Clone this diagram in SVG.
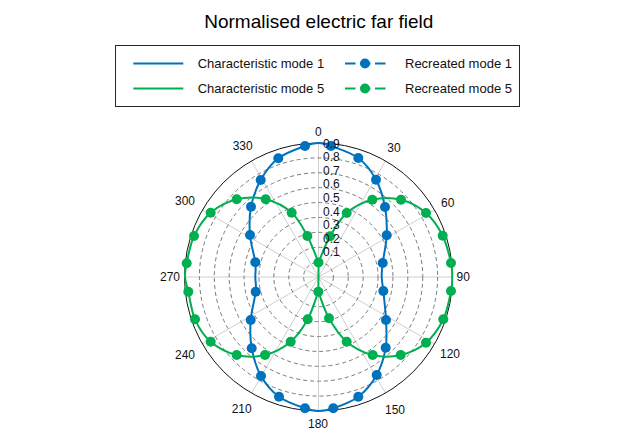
<svg xmlns="http://www.w3.org/2000/svg" width="626" height="446" viewBox="0 0 626 446">
<style>
text{font-family:"Liberation Sans",Arial,sans-serif;fill:#111}
.ttl{font-size:19px;text-anchor:middle;fill:#000}
.lg{font-size:13px}
.ang{font-size:12px;text-anchor:middle}
.rt{font-size:12px}
.spoke{stroke:#cfcfcf;stroke-width:1;fill:none}
.ring{stroke:#7a7a7a;stroke-width:1;fill:none;stroke-dasharray:4 3}
.blue{stroke:#0072BD;stroke-width:2;fill:none;stroke-linejoin:round}
.green{stroke:#00B050;stroke-width:2;fill:none;stroke-linejoin:round}
.bm{fill:#0072BD}
.gm{fill:#00B050}
.dash{stroke-dasharray:10.5 4.5}
</style>
<rect width="626" height="446" fill="#fff"/>
<text class="ttl" x="318.8" y="28">Normalised electric far field</text>
<g id="legend">
<rect x="115.5" y="45.5" width="404" height="61" fill="#fff" stroke="#262626" stroke-width="1"/>
<line class="blue" x1="133.3" y1="63.5" x2="183.3" y2="63.5"/>
<text class="lg" x="197.7" y="68">Characteristic mode 1</text>
<line class="green" x1="133.3" y1="88.5" x2="183.3" y2="88.5"/>
<text class="lg" x="197.7" y="93">Characteristic mode 5</text>
<line class="blue dash" x1="345" y1="63.5" x2="390" y2="63.5"/>
<circle class="bm" cx="365" cy="63.5" r="5"/>
<text class="lg" x="405" y="68">Recreated mode 1</text>
<line class="green dash" x1="345" y1="88.5" x2="390" y2="88.5"/>
<circle class="gm" cx="365" cy="88.5" r="5"/>
<text class="lg" x="405" y="93">Recreated mode 5</text>
</g>
<g id="grid">
<line class="spoke" x1="318.5" y1="143" x2="318.5" y2="411"/>
<line class="spoke" x1="184.5" y1="277" x2="452.5" y2="277"/>
<line class="spoke" x1="385.5" y1="160.95" x2="251.5" y2="393.05"/>
<line class="spoke" x1="434.55" y1="210" x2="202.45" y2="344"/>
<line class="spoke" x1="434.55" y1="344" x2="202.45" y2="210"/>
<line class="spoke" x1="385.5" y1="393.05" x2="251.5" y2="160.95"/>
<circle class="ring" cx="318.5" cy="277" r="14.89"/>
<circle class="ring" cx="318.5" cy="277" r="29.78"/>
<circle class="ring" cx="318.5" cy="277" r="44.67"/>
<circle class="ring" cx="318.5" cy="277" r="59.56"/>
<circle class="ring" cx="318.5" cy="277" r="74.44"/>
<circle class="ring" cx="318.5" cy="277" r="89.33"/>
<circle class="ring" cx="318.5" cy="277" r="104.22"/>
<circle class="ring" cx="318.5" cy="277" r="119.11"/>
<circle cx="318.5" cy="277" r="134" fill="none" stroke="#111" stroke-width="1"/>
</g>
<g id="connectors">
<path id="mode1-line" class="blue" d="M318.5,143 C322.83,143 324.37,143.5 331,146 C337.63,148.5 350.8,152.38 358.3,158 C365.8,163.62 371.55,171.53 376,179.7 C380.45,187.87 383.22,197.73 385,207 C386.78,216.27 387.08,225.97 386.7,235.3 C386.32,244.63 383.53,256.05 382.7,263 C381.87,269.95 381.6,272.33 381.7,277 C381.8,281.67 382.58,283.83 383.3,291 C384.02,298.17 385.6,310.55 386,320 C386.4,329.45 387.25,338.53 385.7,347.7 C384.15,356.87 381.27,366.83 376.7,375 C372.13,383.17 365.53,391.15 358.3,396.7 C351.07,402.25 339.93,405.92 333.3,408.3 C326.67,410.68 323.22,411 318.5,411 C313.78,411 311.58,410.68 305,408.3 C298.42,405.92 286.33,402.08 279,396.7 C271.67,391.32 265.55,384.07 261,376 C256.45,367.93 253.42,357.63 251.7,348.3 C249.98,338.97 250.03,329.43 250.7,320 C251.37,310.57 254.93,298.87 255.7,291.7 C256.47,284.53 255.37,281.9 255.3,277 C255.23,272.1 256.18,269.3 255.3,262.3 C254.42,255.3 250.72,244.27 250,235 C249.28,225.73 249.22,215.87 251,206.7 C252.78,197.53 256.15,188.07 260.7,180 C265.25,171.93 270.92,163.97 278.3,158.3 C285.68,152.63 298.3,148.55 305,146 C311.7,143.45 314.17,143 318.5,143 Z"/>
<path id="mode5-line" class="green" d="M318.5,277 L318.5,262.5 C320.42,258.13 325.3,244.55 330,236.3 C334.7,228.05 339.65,219.1 346.7,213 C353.75,206.9 363.25,201.92 372.3,199.7 C381.35,197.48 392.05,197.48 401,199.7 C409.95,201.92 419.05,207 426,213 C432.95,219 438.53,227.37 442.7,235.7 C446.87,244.03 449.42,256.12 451,263 C452.58,269.88 452.2,272.33 452.2,277 C452.2,281.67 452.48,283.95 451,291 C449.52,298.05 447.47,310.68 443.3,319.3 C439.13,327.92 433.1,336.75 426,342.7 C418.9,348.65 409.58,352.95 400.7,355 C391.82,357.05 381.7,357.22 372.7,355 C363.7,352.78 353.98,347.82 346.7,341.7 C339.42,335.58 333.73,326.63 329,318.3 C324.27,309.97 320.08,296.13 318.3,291.7 L318.5,277 M318.3,291.7 C316.53,296.3 312.3,310.97 307.7,319.3 C303.1,327.63 297.82,335.75 290.7,341.7 C283.58,347.65 274,352.78 265,355 C256,357.22 245.75,357.22 236.7,355 C227.65,352.78 217.65,347.65 210.7,341.7 C203.75,335.75 198.73,327.63 195,319.3 C191.27,310.97 189.97,298.75 188.3,291.7 C186.63,284.65 185.27,281.73 185,277 C184.73,272.27 185.2,270.13 186.7,263.3 C188.2,256.47 190,244.43 194,236 C198,227.57 203.58,218.82 210.7,212.7 C217.82,206.58 227.53,201.53 236.7,199.3 C245.87,197.07 256.53,197.07 265.7,199.3 C274.87,201.53 284.77,206.58 291.7,212.7 C298.63,218.82 302.83,227.7 307.3,236 C311.77,244.3 316.63,258.08 318.5,262.5"/>
</g>
<g id="mode1-markers">
<circle class="bm" cx="331" cy="146" r="5"/>
<circle class="bm" cx="358.3" cy="158" r="5"/>
<circle class="bm" cx="376" cy="179.7" r="5"/>
<circle class="bm" cx="385" cy="207" r="5"/>
<circle class="bm" cx="386.7" cy="235.3" r="5"/>
<circle class="bm" cx="382.7" cy="263" r="5"/>
<circle class="bm" cx="383.3" cy="291" r="5"/>
<circle class="bm" cx="386" cy="320" r="5"/>
<circle class="bm" cx="385.7" cy="347.7" r="5"/>
<circle class="bm" cx="376.7" cy="375" r="5"/>
<circle class="bm" cx="358.3" cy="396.7" r="5"/>
<circle class="bm" cx="333.3" cy="408.3" r="5"/>
<circle class="bm" cx="305" cy="408.3" r="5"/>
<circle class="bm" cx="279" cy="396.7" r="5"/>
<circle class="bm" cx="261" cy="376" r="5"/>
<circle class="bm" cx="251.7" cy="348.3" r="5"/>
<circle class="bm" cx="250.7" cy="320" r="5"/>
<circle class="bm" cx="255.7" cy="291.7" r="5"/>
<circle class="bm" cx="255.3" cy="262.3" r="5"/>
<circle class="bm" cx="250" cy="235" r="5"/>
<circle class="bm" cx="251" cy="206.7" r="5"/>
<circle class="bm" cx="260.7" cy="180" r="5"/>
<circle class="bm" cx="278.3" cy="158.3" r="5"/>
<circle class="bm" cx="305" cy="146" r="5"/>
</g>
<g id="mode5-markers">
<circle class="gm" cx="318.5" cy="262.5" r="5"/>
<circle class="gm" cx="330" cy="236.3" r="5"/>
<circle class="gm" cx="346.7" cy="213" r="5"/>
<circle class="gm" cx="372.3" cy="199.7" r="5"/>
<circle class="gm" cx="401" cy="199.7" r="5"/>
<circle class="gm" cx="426" cy="213" r="5"/>
<circle class="gm" cx="442.7" cy="235.7" r="5"/>
<circle class="gm" cx="451" cy="263" r="5"/>
<circle class="gm" cx="451" cy="291" r="5"/>
<circle class="gm" cx="443.3" cy="319.3" r="5"/>
<circle class="gm" cx="426" cy="342.7" r="5"/>
<circle class="gm" cx="400.7" cy="355" r="5"/>
<circle class="gm" cx="372.7" cy="355" r="5"/>
<circle class="gm" cx="346.7" cy="341.7" r="5"/>
<circle class="gm" cx="329" cy="318.3" r="5"/>
<circle class="gm" cx="318.3" cy="291.7" r="5"/>
<circle class="gm" cx="307.7" cy="319.3" r="5"/>
<circle class="gm" cx="290.7" cy="341.7" r="5"/>
<circle class="gm" cx="265" cy="355" r="5"/>
<circle class="gm" cx="236.7" cy="355" r="5"/>
<circle class="gm" cx="210.7" cy="341.7" r="5"/>
<circle class="gm" cx="195" cy="319.3" r="5"/>
<circle class="gm" cx="188.3" cy="291.7" r="5"/>
<circle class="gm" cx="186.7" cy="263.3" r="5"/>
<circle class="gm" cx="194" cy="236" r="5"/>
<circle class="gm" cx="210.7" cy="212.7" r="5"/>
<circle class="gm" cx="236.7" cy="199.3" r="5"/>
<circle class="gm" cx="265.7" cy="199.3" r="5"/>
<circle class="gm" cx="291.7" cy="212.7" r="5"/>
<circle class="gm" cx="307.3" cy="236" r="5"/>
</g>
<g id="angle-labels">
<text class="ang" x="318.3" y="136">0</text>
<text class="ang" x="394" y="152.3">30</text>
<text class="ang" x="447.7" y="207.3">60</text>
<text class="ang" x="463.3" y="281">90</text>
<text class="ang" x="450" y="358.3">120</text>
<text class="ang" x="395" y="413.6">150</text>
<text class="ang" x="318" y="428.3">180</text>
<text class="ang" x="241.7" y="412.6">210</text>
<text class="ang" x="185" y="358.6">240</text>
<text class="ang" x="170" y="281.3">270</text>
<text class="ang" x="185" y="205">300</text>
<text class="ang" x="242.7" y="150.3">330</text>
</g>
<g id="r-labels">
<text class="rt" x="323" y="147.8">0.9</text>
<text class="rt" x="323" y="161.3">0.8</text>
<text class="rt" x="323" y="174.9">0.7</text>
<text class="rt" x="323" y="188.4">0.6</text>
<text class="rt" x="323" y="201.9">0.5</text>
<text class="rt" x="323" y="215.5">0.4</text>
<text class="rt" x="323" y="229">0.3</text>
<text class="rt" x="323" y="242.5">0.2</text>
<text class="rt" x="323" y="256.1">0.1</text>
</g>
</svg>
